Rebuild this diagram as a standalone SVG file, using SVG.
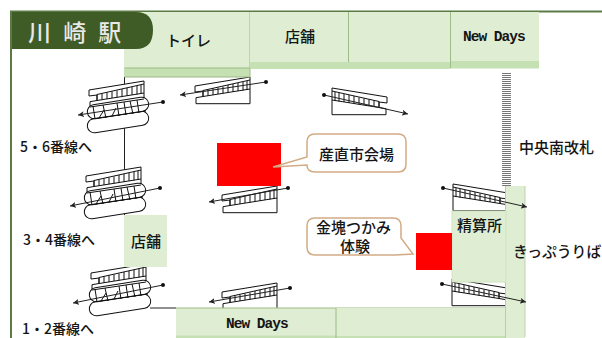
<svg xmlns="http://www.w3.org/2000/svg" width="602" height="338" viewBox="0 0 602 338">
<style>
text{font-family:"Noto Sans CJK JP","Liberation Sans",sans-serif;fill:#151515;font-size:15px;font-weight:500}
.m{font-family:"Liberation Mono","DejaVu Sans Mono",monospace;font-size:14.500px;font-weight:700;letter-spacing:-1px}
.l{font-size:14px}
.b{fill:#dfeed3;stroke:none}
.s{fill:#c5e0b3;stroke:none}
.d{stroke:#9dbb86;stroke-width:1;fill:none}
.st{fill:none;stroke:#111;stroke-width:1}
.w{fill:#fff;stroke:#111;stroke-width:1}
.ar{fill:none;stroke:#222;stroke-width:1;marker-start:url(#dot);marker-end:url(#tip)}
.c{fill:#fff;stroke:#d2ab85;stroke-width:1.5}
</style>
<defs>
<marker id="dot" markerWidth="5" markerHeight="5" refX="2.5" refY="2.5" markerUnits="userSpaceOnUse"><circle cx="2.5" cy="2.5" r="2" fill="#111"/></marker>
<marker id="tip" markerWidth="7" markerHeight="6" refX="6" refY="3" orient="auto" markerUnits="userSpaceOnUse"><path d="M0 0L6 3L0 6L1.5 3Z" fill="#222"/></marker>
<g id="stair">
<path class="w" d="M203 94.500L196 95.700V101.700H250V75L195 84V90L203 89Z"/>
<path class="st" d="M203 88.500L250 78M203 94.500L250 87M203 88.500V94.500M208 87.500V93.700M213 86.500V93M218 85.500V92M223 84.500V91.500M228 83V90.500M233 82V90M238 81V89M243 80V88.500M247 79V88"/>
</g>
<g id="esc">
<rect class="w" x="87" y="115" width="62" height="14" rx="7" transform="rotate(-9 118 122)"/>
<use href="#stair" x="-106" y="6"/>
<rect class="w" x="87" y="101" width="62" height="14" rx="7" transform="rotate(-9 118 108)"/>
<path class="st" d="M90 107L144 99M91 119L146 111M93 106L95 119M103 105L106 118M104 110L99 118M117 103L119 116M116 108L112 116M130 101L133 114M137 100L139 113M124 102L126 115"/>
</g>
</defs>

<rect width="602" height="338" fill="#fff"/>
<g id="frame">
<path d="M11 338V11.500H602" fill="none" stroke="#5b7a45" stroke-width="2"/>
<path d="M124.500 49V300" stroke="#222" stroke-width="1" fill="none"/>
<path d="M150 308H176" stroke="#222" stroke-width="1" fill="none"/>
</g>

<g id="stairs">
<use href="#stair" transform="translate(0 2)"/>
<use href="#stair" transform="translate(27 111)"/>
<use href="#stair" transform="translate(27 208)"/>
<use href="#stair" transform="translate(582 13) scale(-1 1)"/>
<use href="#stair" transform="translate(703 109) scale(-1 1)"/>
<use href="#stair" transform="translate(702 204) scale(-1 1)"/>
<use href="#esc"/>
<use href="#esc" transform="translate(-3 86)"/>
<use href="#esc" transform="translate(2 183)"/>
</g>

<g id="gate"><path d="M506.500 73V186" stroke="#777" stroke-width="9" stroke-dasharray="1 1" fill="none"/></g>

<g id="node-toilet"><rect class="b" x="124" y="12" width="126" height="56"/><rect class="s" x="124" y="68" width="126" height="9"/><path class="d" d="M124.500 68H250M250 12V77M124.500 77H250"/><text x="166" y="46">トイレ</text></g>
<g id="node-shop1"><rect class="b" x="250" y="12" width="98" height="50"/><rect class="s" x="250" y="62" width="98" height="7"/><text x="285" y="42">店舗</text></g>
<g id="node-shop2"><rect class="b" x="348" y="12" width="102" height="50"/><rect class="s" x="348" y="62" width="102" height="7"/><path class="d" d="M348.500 12V62"/></g>
<g id="node-newdays1"><rect class="b" x="450" y="12" width="89" height="49"/><rect class="s" x="450" y="61" width="89" height="7.500"/><path class="d" d="M450.500 12V68"/><text class="m" x="463" y="41">New Days</text></g>
<g id="node-shop3"><rect class="b" x="124" y="215" width="43" height="52" stroke="#a9c493"/><text x="131" y="247">店舗</text></g>
<g id="node-kippu"><rect class="b" x="505" y="186" width="20" height="152"/><path class="d" d="M525 186V337M505.500 186V338" stroke-opacity=".6"/></g>
<g id="node-seisan"><rect x="452" y="211" width="54" height="71" fill="#dfeed3" stroke="#cfe3bf"/><text x="457" y="231">精算所</text></g>
<g id="node-newdays2"><rect class="b" x="176" y="308" width="160" height="28"/><rect class="s" x="176" y="335.500" width="329" height="2.500"/><path class="d" d="M176 308H505"/><text class="m" x="226" y="328">New Days</text></g>
<g id="node-shop4"><rect class="b" x="336" y="308" width="169" height="28"/><path class="d" d="M336 308V338"/></g>
<text x="513" y="257" style="font-size:14.800px">きっぷうりば</text>

<g id="connectors">
<path class="ar" d="M266 82L180 95"/>
<path class="ar" d="M288 188L209 202"/>
<path class="ar" d="M290 288L209 302"/>
<path class="ar" d="M324 95L408 114"/>
<path class="ar" d="M443 188L527 207"/>
<path class="ar" d="M442 284L526 302"/>
<path class="ar" d="M163 102L78 115"/>
<path class="ar" d="M160 188L70 206"/>
<path class="ar" d="M163 285L73 303"/>
</g>

<g id="node-title"><path d="M12 12H136Q153 12 153 30Q153 49 136 49H12Z" fill="#3f5c27"/><text x="28" y="41" style="font-size:23px;fill:#e8e8e8;word-spacing:7px">川 崎 駅</text></g>
<g id="node-red1"><rect x="217" y="143" width="64" height="43" fill="#fe0000"/></g>
<g id="node-red2"><rect x="416" y="233" width="36" height="37" fill="#fe0000"/></g>
<g id="callout1"><path class="c" d="M315 134H398Q406 134 406 142V164Q406 172 398 172H315Q307 172 307 165L273 167L307 157V142Q307 134 315 134Z"/><text x="319" y="160">産直市会場</text></g>
<g id="callout2"><path class="c" d="M315 218H393Q401 218 401 226V238L413 254L395 255H315Q307 255 307 247V226Q307 218 315 218Z"/><text x="316" y="233">金塊つかみ</text><text x="340" y="252">体験</text></g>
<g id="labels">
<text class="l" x="20" y="152">5・6番線へ</text>
<text class="l" x="23" y="245">3・4番線へ</text>
<text class="l" x="22" y="334">1・2番線へ</text>
<text x="519" y="153">中央南改札</text>
</g>
</svg>
